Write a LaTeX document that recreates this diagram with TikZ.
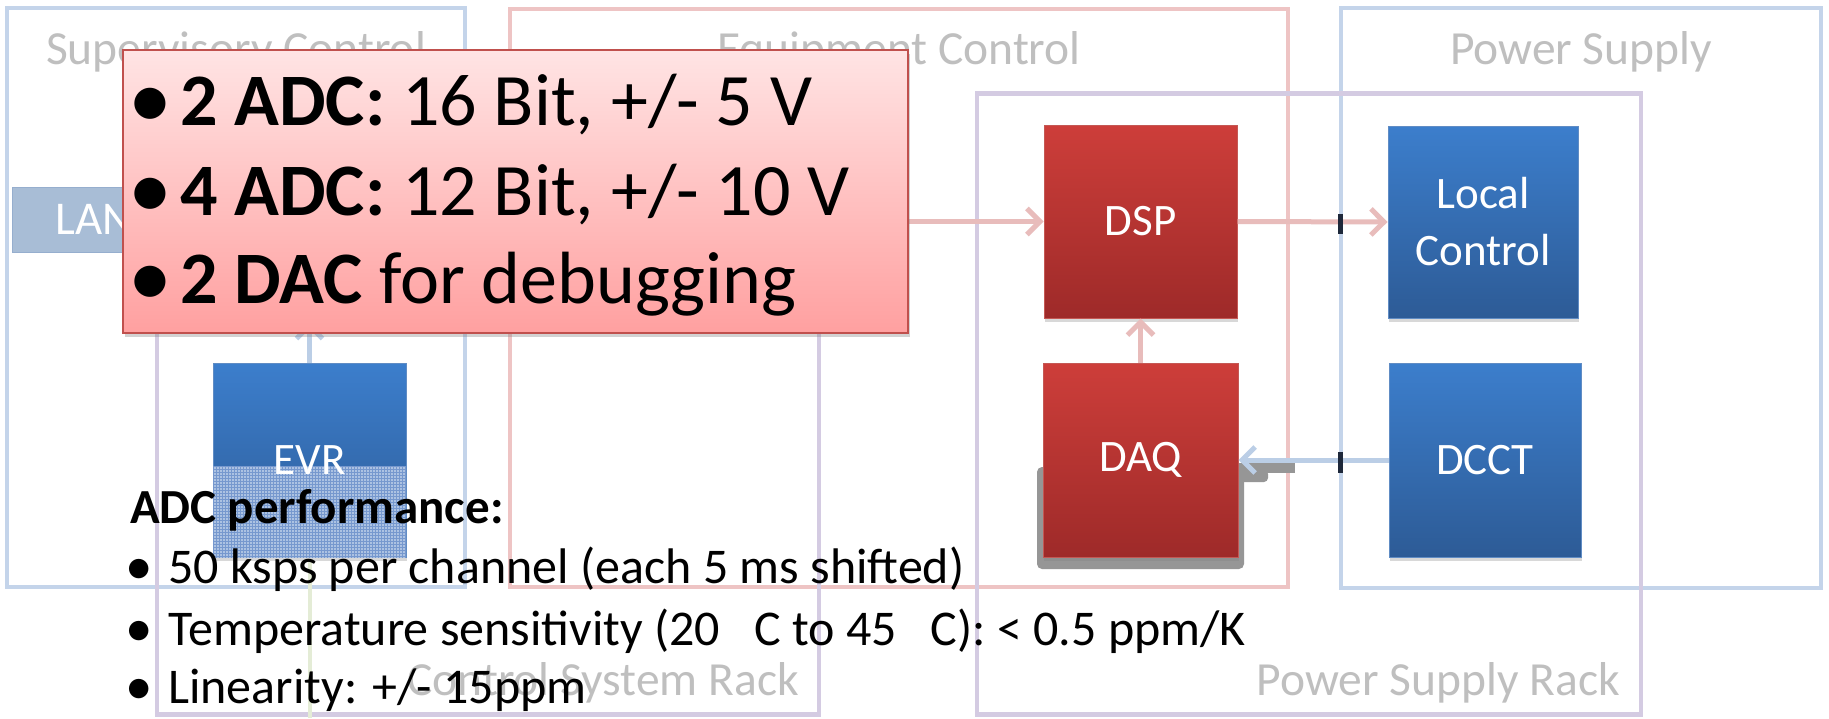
\documentclass[tikz,border=0pt]{standalone}
\usepackage{fontspec}
\setmainfont{Carlito}
\usetikzlibrary{arrows.meta,shadows,patterns}
\definecolor{frameblue}{RGB}{196,212,234}
\definecolor{framered}{RGB}{238,196,196}
\definecolor{framepurple}{RGB}{212,203,226}
\definecolor{labelgray}{RGB}{191,191,191}
\definecolor{redtop}{RGB}{205,62,58}
\definecolor{redbot}{RGB}{158,42,41}
\definecolor{redline}{RGB}{196,88,84}
\definecolor{bluetop}{RGB}{60,126,204}
\definecolor{bluebot}{RGB}{45,91,150}
\definecolor{blueline}{RGB}{96,140,196}
\definecolor{pinkarrow}{RGB}{232,188,187}
\definecolor{bluearrow}{RGB}{187,206,230}
\definecolor{lanfill}{RGB}{168,189,214}
\definecolor{lanline}{RGB}{150,174,206}
\definecolor{calltop}{RGB}{255,228,228}
\definecolor{callbot}{RGB}{255,160,160}
\definecolor{callline}{RGB}{192,80,77}
\definecolor{tickcol}{RGB}{30,40,58}
\definecolor{evrfill}{RGB}{172,194,226}
\definecolor{evrgrid}{RGB}{118,152,206}
\definecolor{faintgreen}{RGB}{228,236,214}
\definecolor{shadowgray}{RGB}{150,150,150}

\begin{document}
\begin{tikzpicture}[x=1pt,y=-1pt,
  frame/.style={rectangle,line width=4.5pt,inner sep=0pt},
  grouplabel/.style={text=labelgray,font=\fontsize{47.5}{57}\selectfont,inner sep=0pt},
  blockbase/.style={rectangle,inner sep=0pt,text=white,align=center,
    font=\fontsize{45}{57}\selectfont,
    drop shadow={shadow xshift=1pt,shadow yshift=-4pt,opacity=0.3}},
  redblock/.style={blockbase,top color=redtop,bottom color=redbot,draw=redline,line width=1pt},
  blueblock/.style={blockbase,top color=bluetop,bottom color=bluebot,draw=blueline,line width=1pt},
  pinkconn/.style={draw=pinkarrow,line width=5pt,-{Straight Barb[length=13pt,width=26pt]}},
  blueconn/.style={draw=bluearrow,line width=5pt,-{Straight Barb[length=13pt,width=26pt]}},
  tickmark/.style={fill=tickcol},
  bigtext/.style={font=\fontsize{74}{89}\selectfont,inner sep=0pt,anchor=base west},
  bigbullet/.style={font=\fontsize{88}{100}\selectfont,inner sep=0pt,anchor=base},
  smalltext/.style={font=\fontsize{50}{60}\selectfont,inner sep=0pt,anchor=base west},
  smallbullet/.style={font=\fontsize{55}{64}\selectfont,inner sep=0pt,anchor=base}
]
% canvas
\path[use as bounding box,fill=white] (0,0) rectangle (1829,718);

% group frames
\node[frame,draw=frameblue,minimum width=458pt,minimum height=579pt] (sup) at (236,297.5) {};
\node[frame,draw=framered,minimum width=778pt,minimum height=578pt] (eq) at (899,298) {};
\node[frame,draw=frameblue,minimum width=480pt,minimum height=580pt] (ps) at (1581,298) {};
\node[frame,draw=framepurple,minimum width=662pt,minimum height=621pt] (csr) at (488,404) {};
\node[frame,draw=framepurple,minimum width=664pt,minimum height=621pt] (psr) at (1309,404) {};

\node[grouplabel,anchor=base] (supl) at (236,64) {Supervisory Control};
\node[grouplabel,anchor=base] (eql) at (899,64) {Equipment Control};
\node[grouplabel,anchor=base] (psl) at (1581,64) {Power Supply};
\node[grouplabel,anchor=base east] (csrl) at (799,695) {Control System Rack};
\node[grouplabel,anchor=base east] (psrl) at (1620,695) {Power Supply Rack};

% faint line below EVR
\coordinate (evrdown) at (309.5,718);
\draw[faintgreen,line width=4pt] (309.5,560) -- (evrdown);

% gray elbow shadow behind DAQ
\fill[shadowgray,rounded corners=5pt] (1037,467) rectangle (1244,569);
\fill[shadowgray] (1236,463) rectangle (1295,473);
\fill[shadowgray,rounded corners=4pt] (1240,470) rectangle (1268,482);

% blocks
\node[redblock,minimum width=193pt,minimum height=193pt] (dsp) at (1140.5,221.5) {DSP};
\node[redblock,minimum width=195pt,minimum height=194pt] (daq) at (1140.5,460) {DAQ};
\node[blueblock,minimum width=190pt,minimum height=192pt] (lc) at (1483,222) {Local\\Control};
\node[blueblock,minimum width=192pt,minimum height=194pt] (dcct) at (1485,460) {DCCT};
\node[blueblock,minimum width=193pt,minimum height=194pt] (evr) at (309.5,460) {};
\fill[evrfill] (213,466) rectangle (406,557.5);
\fill[pattern=grid,pattern color=evrgrid] (213,466) rectangle (406,557.5);
\node[text=white,font=\fontsize{45}{57}\selectfont,inner sep=0pt] (evrt) at (309.5,460) {EVR};

\node[rectangle,fill=lanfill,draw=lanline,line width=1pt,minimum width=164pt,minimum height=65pt,
  inner sep=0pt,text=white,font=\fontsize{47}{56}\selectfont] (lan) at (94,219.5) {LAN};

% connectors
\draw[pinkconn] (lan.east |- dsp.west) -- (dsp.west);
\draw[pinkconn] (dsp.east) -- (lc.west);
\draw[pinkconn] (daq.north) -- (dsp.south);
\draw[blueconn] (dcct.west) -- (daq.east);
\coordinate (evrup) at (309.5,322);
\draw[blueconn] (evr.north) -- (evrup);
\fill[tickmark] (1338,214) rectangle (1343,234);
\fill[tickmark] (1338,452) rectangle (1343,473);

% callout
\node[rectangle,draw=callline,line width=2.5pt,top color=calltop,bottom color=callbot,
  minimum width=785pt,minimum height=283pt,inner sep=0pt,
  drop shadow={shadow xshift=2pt,shadow yshift=-4pt,opacity=0.35}] (callout) at (515.5,191.5) {};
\node[bigbullet] (b1) at (150,128) {•};
\node[bigtext] (t1) at (180,125) {\textbf{2 ADC:} 16 Bit, +/- 5 V};
\node[bigbullet] (b2) at (150,218) {•};
\node[bigtext] (t2) at (180,215) {\textbf{4 ADC:} 12 Bit, +/- 10 V};
\node[bigbullet] (b3) at (150,306) {•};
\node[bigtext] (t3) at (180,303) {\textbf{2 DAC} for debugging};

% ADC performance text
\node[smalltext,font=\fontsize{49}{59}\selectfont\bfseries] (perf) at (130,523) {ADC performance:};
\node[smallbullet] (p1b) at (139,584) {•};
\node[smalltext] (p1) at (168,583) {50 ksps per channel (each 5 ms shifted)};
\node[smallbullet] (p2b) at (139,646) {•};
\node[smalltext] (p2) at (168,645) {Temperature sensitivity (20\hspace{34pt}C to 45\hspace{34pt}C): < 0.5 ppm/K};
\node[smallbullet] (p3b) at (139,704) {•};
\node[smalltext] (p3) at (168,703) {Linearity: +/- 15ppm};
\end{tikzpicture}
\end{document}
